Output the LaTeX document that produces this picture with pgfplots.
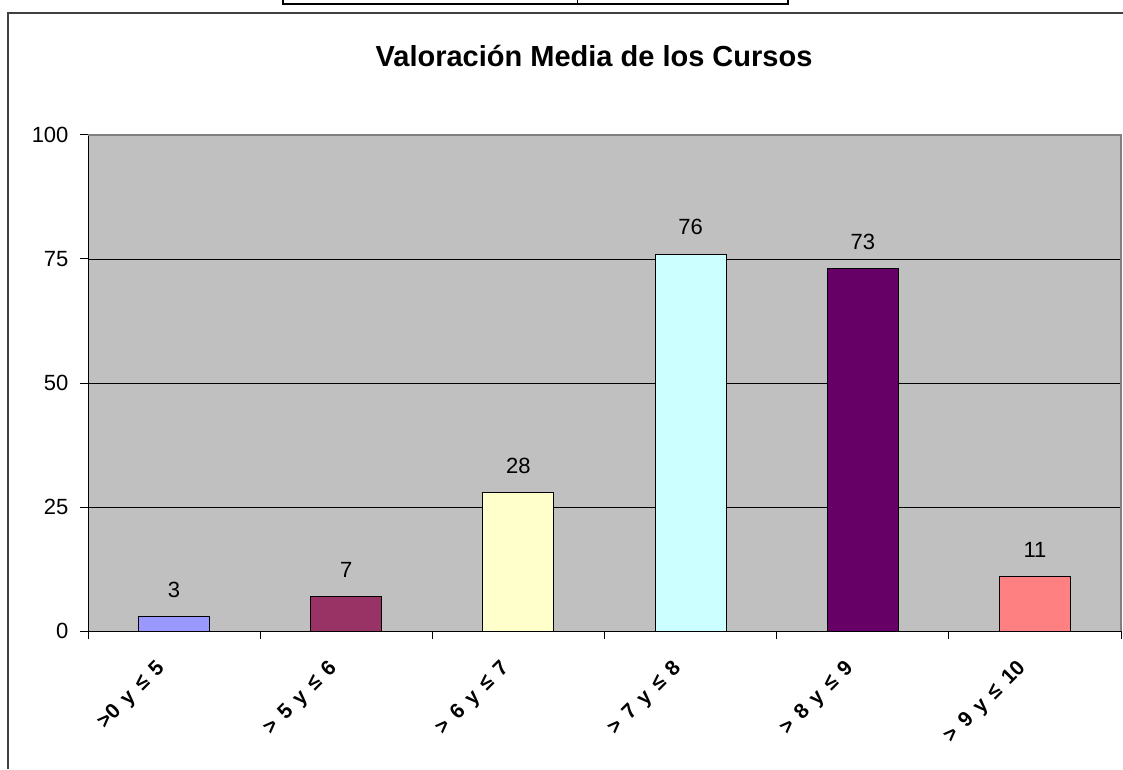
\documentclass[border=0pt]{standalone}
\usepackage{pgfplots}
\pgfplotsset{compat=1.18}
\usepackage{fontspec}
\setmainfont{Liberation Sans}
\newfontfamily\tickfont[WordSpace=1.5]{Liberation Sans}
\definecolor{bgray}{HTML}{C0C0C0}
\definecolor{c1}{HTML}{9999FF}
\definecolor{c2}{HTML}{993366}
\definecolor{c3}{HTML}{FFFFCC}
\definecolor{c4}{HTML}{CCFFFF}
\definecolor{c5}{HTML}{660066}
\definecolor{c6}{HTML}{FF8080}
\begin{document}
\begin{tikzpicture}[x=1pt,y=1pt]
\path[use as bounding box] (0,0) rectangle (1123,769);
\draw[line width=1.5pt, black!75] (8,0) -- (8,756) -- (1123,756);
\draw[line width=1.8pt] (283,769) -- (283,765) -- (788,765) -- (788,769);
\draw[line width=1pt] (577,765) -- (577,769);
\node[font=\bfseries\fontsize{29}{33}\selectfont] at (594,713) {Valoración Media de los Cursos};
\coordinate (O) at (88,138);
\begin{axis}[
  at={(O)}, anchor=south west,
  width=1033pt, height=496pt, scale only axis,
  xmin=0, xmax=6, ymin=0, ymax=100,
  axis background/.style={fill=bgray},
  axis x line*=bottom, axis y line*=left,
  axis line style={line width=1pt, black},
  ytick={0,25,50,75,100},
  ymajorgrids, grid style={black, line width=0.8pt},
  tick align=outside,
  tick style={black, line width=1pt},
  major tick length=8pt,
  xtick={0,1,2,3,4,5,6},
  xticklabels={},
  extra x ticks={0.5,1.5,2.5,3.5,4.5,5.5},
  extra x tick labels={{>0 y ≤ 5},{> 5 y ≤ 6},{> 6 y ≤ 7},{> 7 y ≤ 8},{> 8 y ≤ 9},{> 9 y ≤ 10}},
  extra x tick style={major tick length=0pt,
    xticklabel style={font=\tickfont\bfseries\fontsize{21}{24}\selectfont, xshift=-10pt, yshift=-32pt, rotate=45, anchor=east}},
  yticklabel style={font=\fontsize{22}{26}\selectfont, xshift=-8pt},
  /pgf/number format/assume math mode=true,
  ybar, bar width=71pt, bar shift=0pt,
  nodes near coords,
  every node near coord/.append style={font=\fontsize{22}{26}\selectfont, black, yshift=15pt},
  clip=false,
]
\addplot[fill=c1, draw=black, line width=1pt] coordinates {(0.5,3)};
\addplot[fill=c2, draw=black, line width=1pt] coordinates {(1.5,7)};
\addplot[fill=c3, draw=black, line width=1pt] coordinates {(2.5,28)};
\addplot[fill=c4, draw=black, line width=1pt] coordinates {(3.5,76)};
\addplot[fill=c5, draw=black, line width=1pt] coordinates {(4.5,73)};
\addplot[fill=c6, draw=black, line width=1pt] coordinates {(5.5,11)};
\draw[gray, line width=1.5pt] (rel axis cs:0,1) -- (rel axis cs:1,1) -- (rel axis cs:1,0);
\end{axis}
\end{tikzpicture}
\end{document}
